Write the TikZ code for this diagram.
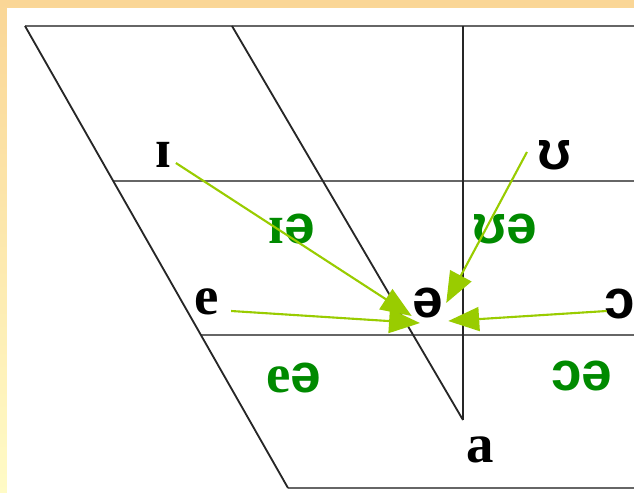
\documentclass[tikz,border=0pt]{standalone}
\usepackage{fontspec}
\setmainfont{Liberation Serif}
\newfontfamily\ipasans{Liberation Sans}
\usetikzlibrary{arrows.meta, calc}
\definecolor{chartgrey}{HTML}{666666}
\definecolor{diphgreen}{HTML}{008A00}
\definecolor{glidegreen}{HTML}{99CC00}
\definecolor{frameorange}{HTML}{FAD696}
\definecolor{frameyellow}{HTML}{FFFBC6}
\tikzset{
  vowel/.style={inner sep=0pt, outer sep=0pt, font=\fontsize{39}{41}\selectfont\bfseries},
  diphthong/.style={vowel, text=diphgreen},
  chartline/.style={line width=1.3pt, draw=black!85},
  rowline/.style={line width=2pt, draw=chartgrey},
  glide/.style={-{Triangle[length=22pt, width=17pt]}, line width=1.5pt, draw=glidegreen, fill=glidegreen}
}

\begin{document}
\begin{tikzpicture}[x=0.025cm, y=-0.025cm]
  \useasboundingbox (0,0) rectangle (634,493);
  % frame
  \shade[top color=frameorange, bottom color=frameyellow] (0,0) rectangle (634,493);
  \fill[white] (7,8) rectangle (634,493);

  % chart corners
  \coordinate (topL) at (25,26);
  \coordinate (topM) at (232,26);
  \coordinate (topC) at (463,26);
  \coordinate (topR) at (634,26);
  \coordinate (midL) at (113,181);
  \coordinate (midR) at (634,181);
  \coordinate (lowL) at (201,335);
  \coordinate (lowR) at (634,335);
  \coordinate (botL) at (288,488);
  \coordinate (botR) at (634,488);
  \coordinate (apex) at (463,420);

  \draw[rowline] (topL) -- (topR);
  \draw[rowline] (midL) -- (midR);
  \draw[rowline] (lowL) -- (lowR);
  \draw[rowline] (botL) -- (botR);
  \draw[chartline] (topL) -- (botL);
  \draw[chartline] (topM) -- (apex);
  \draw[chartline] (topC) -- (apex);

  % vowels
  \node[vowel] (I) at (163,155) {ɪ};
  \node[vowel] (U) at (555,155) {{\ipasans ʊ}};
  \node[vowel] (e) at (207,302) {e};
  \node[vowel] (schwa) at (428,303) {{\ipasans ə}};
  \node[vowel] (O) at (620,304) {{\ipasans ɔ}};
  \node[vowel] (a) at (480,450) {a};

  % diphthongs
  \node[diphthong] (Ischwa) at (292,229) {ɪ{\ipasans ə}};
  \node[diphthong] (Uschwa) at (505,229) {{\ipasans ʊə}};
  \node[diphthong] (eschwa) at (294,378) {e{\ipasans ə}};
  \node[diphthong] (Oschwa) at (582,376) {{\ipasans ɔə}};

  % glides
  \draw[glide] ($(I.east)+(5,8)$) -- ($(schwa.south west)+(-1,-2)$);
  \draw[glide] ($(e.east)+(12,9)$) -- ($(schwa.south)+(-8,5)$);
  \draw[glide] ($(U.west)+(-11,-3)$) -- ($(schwa.east)+(3,0)$);
  \draw[glide] ($(O.west)+(2,7)$) -- ($(schwa.south east)+(5,3)$);
\end{tikzpicture}
\end{document}
